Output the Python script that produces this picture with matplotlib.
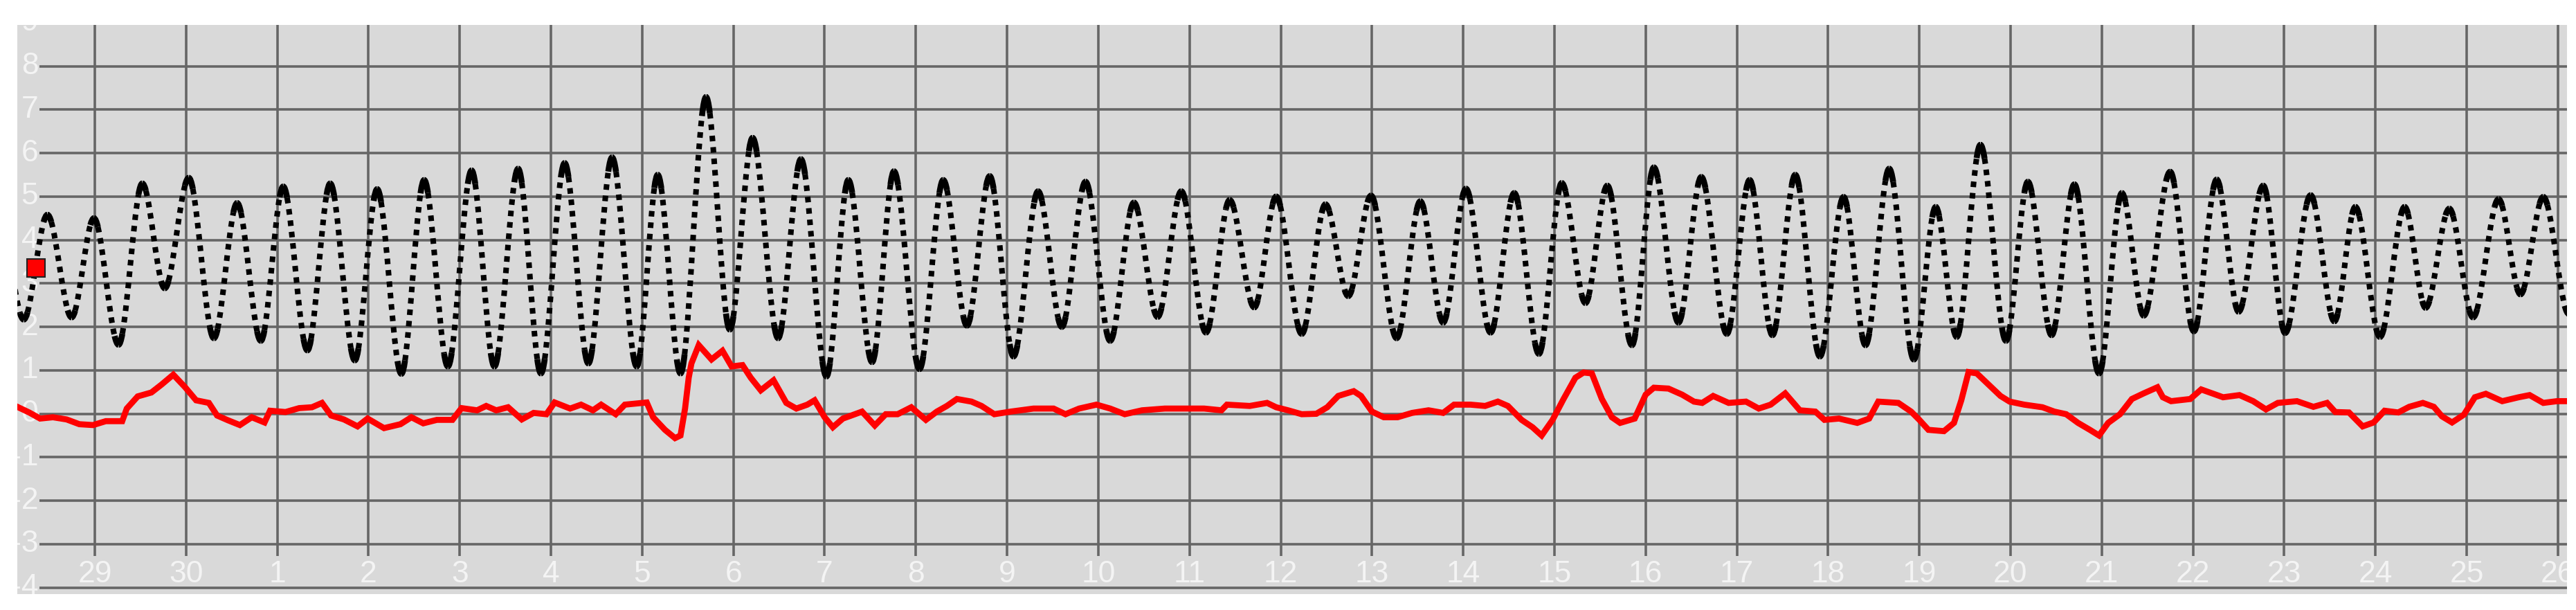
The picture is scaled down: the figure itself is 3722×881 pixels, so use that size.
import matplotlib
matplotlib.use('Agg')
import matplotlib.pyplot as plt
import numpy as np
from matplotlib.path import Path
from matplotlib.patches import PathPatch
from matplotlib.bezier import split_de_casteljau

# day labels along the bottom: 29, 30, then 1..26 of the next month
day_labels = ['29', '30'] + [str(i) for i in range(1, 27)]
day_pos = list(range(len(day_labels)))
level_ticks = list(range(-4, 10))

# predicted tide, highs and lows (day index, level)
tide_t = [-1.03, -0.78, -0.52, -0.255, -0.01, 0.26, 0.52, 0.766, 1.03, 1.305,
          1.56, 1.82, 2.065, 2.33, 2.58, 2.85, 3.095, 3.36, 3.61, 3.87,
          4.13, 4.38, 4.64, 4.89, 5.15, 5.41, 5.67, 5.94, 6.17, 6.42,
          6.70, 6.96, 7.21, 7.49, 7.74, 8.02, 8.26, 8.52, 8.76, 9.04,
          9.30, 9.56, 9.81, 10.07, 10.34, 10.60, 10.86, 11.13, 11.39, 11.65,
          11.91, 12.18, 12.44, 12.71, 12.95, 13.23, 13.49, 13.74, 13.99, 14.27,
          14.53, 14.78, 15.03, 15.30, 15.56, 15.83, 16.08, 16.34, 16.58, 16.85,
          17.09, 17.36, 17.61, 17.89, 18.14, 18.39, 18.64, 18.91, 19.17, 19.41,
          19.67, 19.94, 20.18, 20.41, 20.67, 20.95, 21.19, 21.45, 21.70, 21.97,
          22.22, 22.46, 22.75, 23.01, 23.26, 23.50, 23.77, 24.01, 24.29, 24.55,
          24.78, 25.05, 25.32, 25.55, 25.81, 26.07, 26.35, 26.59, 26.84, 27.12]
tide_h = [4.30, 2.17, 4.58, 2.22, 4.50, 1.59, 5.30, 2.89, 5.43, 1.74,
          4.85, 1.68, 5.23, 1.46, 5.30, 1.23, 5.17, 0.92, 5.38, 1.09,
          5.60, 1.09, 5.64, 0.93, 5.77, 1.16, 5.90, 1.09, 5.50, 0.93,
          7.29, 1.94, 6.35, 1.74, 5.86, 0.86, 5.38, 1.19, 5.58, 1.03,
          5.38, 2.03, 5.47, 1.32, 5.12, 2.00, 5.34, 1.68, 4.86, 2.23,
          5.12, 1.87, 4.92, 2.45, 5.00, 1.84, 4.82, 2.71, 5.02, 1.74,
          4.89, 2.10, 5.18, 1.87, 5.08, 1.38, 5.31, 2.55, 5.25, 1.58,
          5.67, 2.10, 5.45, 1.84, 5.38, 1.81, 5.50, 1.32, 4.99, 1.58,
          5.64, 1.25, 4.76, 1.77, 6.19, 1.68, 5.34, 1.81, 5.28, 0.93,
          5.08, 2.26, 5.57, 1.90, 5.39, 2.35, 5.25, 1.86, 5.03, 2.13,
          4.76, 1.77, 4.76, 2.44, 4.72, 2.22, 4.94, 2.75, 4.99, 2.30]

# observed residual (red trace)
resid_t = [-0.85, -0.72, -0.60, -0.46, -0.31, -0.17, -0.02, 0.12, 0.30, 0.35,
           0.47, 0.62, 0.73, 0.86, 0.99, 1.11, 1.25, 1.34, 1.46, 1.59,
           1.72, 1.86, 1.92, 2.09, 2.24, 2.38, 2.49, 2.59, 2.73, 2.88,
           2.99, 3.17, 3.35, 3.47, 3.60, 3.75, 3.92, 4.02, 4.19, 4.29,
           4.40, 4.53, 4.68, 4.81, 4.95, 5.04, 5.21, 5.33, 5.46, 5.55,
           5.71, 5.81, 6.05, 6.12, 6.25, 6.36, 6.42, 6.47, 6.51, 6.54,
           6.62, 6.76, 6.88, 6.98, 7.10, 7.19, 7.30, 7.44, 7.58, 7.69,
           7.81, 7.89, 8.00, 8.09, 8.20, 8.28, 8.41, 8.55, 8.67, 8.80,
           8.95, 9.11, 9.23, 9.34, 9.45, 9.61, 9.72, 9.86, 10.04, 10.29,
           10.51, 10.64, 10.79, 10.98, 11.13, 11.29, 11.48, 11.73, 11.94, 12.16,
           12.35, 12.41, 12.66, 12.85, 12.95, 13.08, 13.23, 13.39, 13.51, 13.63,
           13.80, 13.88, 14.00, 14.13, 14.28, 14.44, 14.62, 14.78, 14.90, 15.08,
           15.24, 15.38, 15.49, 15.64, 15.76, 15.86, 15.98, 16.10, 16.23, 16.32,
           16.41, 16.52, 16.63, 16.72, 16.88, 17.00, 17.09, 17.25, 17.40, 17.53,
           17.62, 17.74, 17.91, 18.10, 18.24, 18.37, 18.53, 18.69, 18.86, 18.96,
           19.12, 19.32, 19.45, 19.55, 19.77, 19.91, 20.00, 20.10, 20.27, 20.38,
           20.46, 20.54, 20.63, 20.76, 20.89, 20.99, 21.15, 21.35, 21.48, 21.61,
           21.74, 21.87, 21.97, 22.07, 22.20, 22.33, 22.46, 22.61, 22.67, 22.76,
           22.97, 23.09, 23.21, 23.33, 23.51, 23.66, 23.80, 23.93, 24.14, 24.32,
           24.47, 24.56, 24.71, 24.86, 24.98, 25.10, 25.25, 25.37, 25.52, 25.64,
           25.73, 25.84, 25.97, 26.09, 26.21, 26.39, 26.57, 26.69, 26.84, 26.99,
           27.10]
resid_h = [0.16, 0.03, -0.11, -0.08, -0.13, -0.24, -0.26, -0.17, -0.17, 0.12,
           0.40, 0.49, 0.67, 0.90, 0.61, 0.31, 0.25, -0.04, -0.15, -0.26,
           -0.08, -0.20, 0.07, 0.04, 0.13, 0.15, 0.25, -0.04, -0.13, -0.29,
           -0.11, -0.33, -0.24, -0.08, -0.22, -0.14, -0.14, 0.13, 0.08, 0.18,
           0.08, 0.15, -0.13, 0.02, -0.01, 0.26, 0.12, 0.21, 0.08, 0.21,
           -0.01, 0.21, 0.26, -0.08, -0.37, -0.56, -0.50, 0.12, 0.83, 1.16,
           1.58, 1.25, 1.45, 1.09, 1.12, 0.83, 0.54, 0.77, 0.25, 0.12,
           0.21, 0.31, -0.08, -0.31, -0.11, -0.05, 0.05, -0.27, -0.01, -0.01,
           0.15, -0.14, 0.05, 0.18, 0.34, 0.28, 0.18, -0.01, 0.05, 0.12,
           0.12, -0.01, 0.12, 0.21, 0.12, -0.01, 0.08, 0.12, 0.12, 0.12,
           0.08, 0.21, 0.18, 0.25, 0.15, 0.08, -0.01, 0.00, 0.15, 0.41,
           0.52, 0.41, 0.05, -0.08, -0.08, 0.02, 0.08, 0.02, 0.21, 0.21,
           0.18, 0.28, 0.18, -0.14, -0.31, -0.50, -0.14, 0.34, 0.83, 0.95,
           0.93, 0.34, -0.08, -0.21, -0.11, 0.44, 0.60, 0.58, 0.44, 0.28,
           0.25, 0.41, 0.25, 0.28, 0.12, 0.21, 0.47, 0.08, 0.05, -0.14,
           -0.11, -0.21, -0.11, 0.28, 0.25, 0.05, -0.14, -0.37, -0.40, -0.21,
           0.31, 0.96, 0.93, 0.67, 0.41, 0.28, 0.21, 0.15, 0.05, -0.01,
           -0.21, -0.37, -0.50, -0.21, -0.01, 0.34, 0.47, 0.61, 0.38, 0.29,
           0.34, 0.56, 0.47, 0.38, 0.43, 0.29, 0.10, 0.25, 0.29, 0.16,
           0.25, 0.04, 0.03, -0.29, -0.20, 0.07, 0.03, 0.16, 0.25, 0.16,
           -0.06, -0.20, -0.02, 0.38, 0.46, 0.29, 0.38, 0.43, 0.25, 0.29,
           0.29]

# red square at the start of the record
flag_t = [-0.645]
flag_h = [3.35]

W, H = 3722, 881
fig = plt.figure(figsize=(W / 100, H / 100), dpi=100)
fig.patch.set_facecolor('white')
ax = fig.add_axes([25 / W, 1 - 858 / H, (3709 - 25) / W, (858 - 36) / H])
ax.set_facecolor('#d9d9d9')
ax.set_xlim(-0.85, 27.10)
ax.set_ylim(-4.15, 8.95)
ax.set_xticks([])
ax.set_yticks([])
for s in ax.spines.values():
    s.set_visible(False)

grid_c = '#666666'
ax.hlines(level_ticks, -0.61, 27.10, color=grid_c, lw=2.6, zorder=1)
ax.vlines(day_pos, -3.27, 8.95, color=grid_c, lw=2.6, zorder=1)

# axis labels sit inside the plot, in white
lab_font = ['Liberation Sans Narrow', 'Liberation Sans']
for v in level_ticks:
    ax.text(-0.62, v, str(v), ha='right', va='center', color='#f4f4f4',
            fontsize=32, family=lab_font, clip_on=True, zorder=2)
for p, lab in zip(day_pos, day_labels):
    ax.text(p, -3.70, lab, ha='center', va='center', color='#f4f4f4',
            fontsize=32, family=lab_font, clip_on=True, zorder=2)

# tide curve: one cubic per high->low run; the ends near each turn are
# drawn solid, the steep middle part dotted (like the sampled trace)
cap_v, cap_c, mid_v, mid_c = [], [], [], []
for i in range(1, len(tide_t)):
    t0, h0 = tide_t[i - 1], tide_h[i - 1]
    t1, h1 = tide_t[i], tide_h[i]
    dt = (t1 - t0) / 3
    ctrl = np.array([(t0, h0), (t0 + dt, h0), (t1 - dt, h1), (t1, h1)])
    head, rest = split_de_casteljau(ctrl, 0.16)
    mid, tail = split_de_casteljau(rest, 0.68 / 0.84)
    for seg in (head, tail):
        cap_v += list(map(tuple, seg))
        cap_c += [Path.MOVETO] + [Path.CURVE4] * 3
    mid_v += list(map(tuple, mid))
    mid_c += [Path.MOVETO] + [Path.CURVE4] * 3

ax.add_patch(PathPatch(Path(cap_v, cap_c), fill=False, edgecolor='black',
                       lw=6.2, capstyle='butt', zorder=3))
ax.add_patch(PathPatch(Path(mid_v, mid_c), fill=False, edgecolor='black',
                       lw=5.8, linestyle=(0, (1.0, 1.05)), capstyle='butt',
                       zorder=3))

ax.plot(resid_t, resid_h, color='#ff0000', lw=6.3, solid_joinstyle='miter', zorder=4)

ax.plot(flag_t, flag_h, 's', ms=19, markerfacecolor='#ff0000',
        markeredgecolor='#222222', markeredgewidth=1.5, zorder=5)

fig.savefig('out.png', dpi=100)
